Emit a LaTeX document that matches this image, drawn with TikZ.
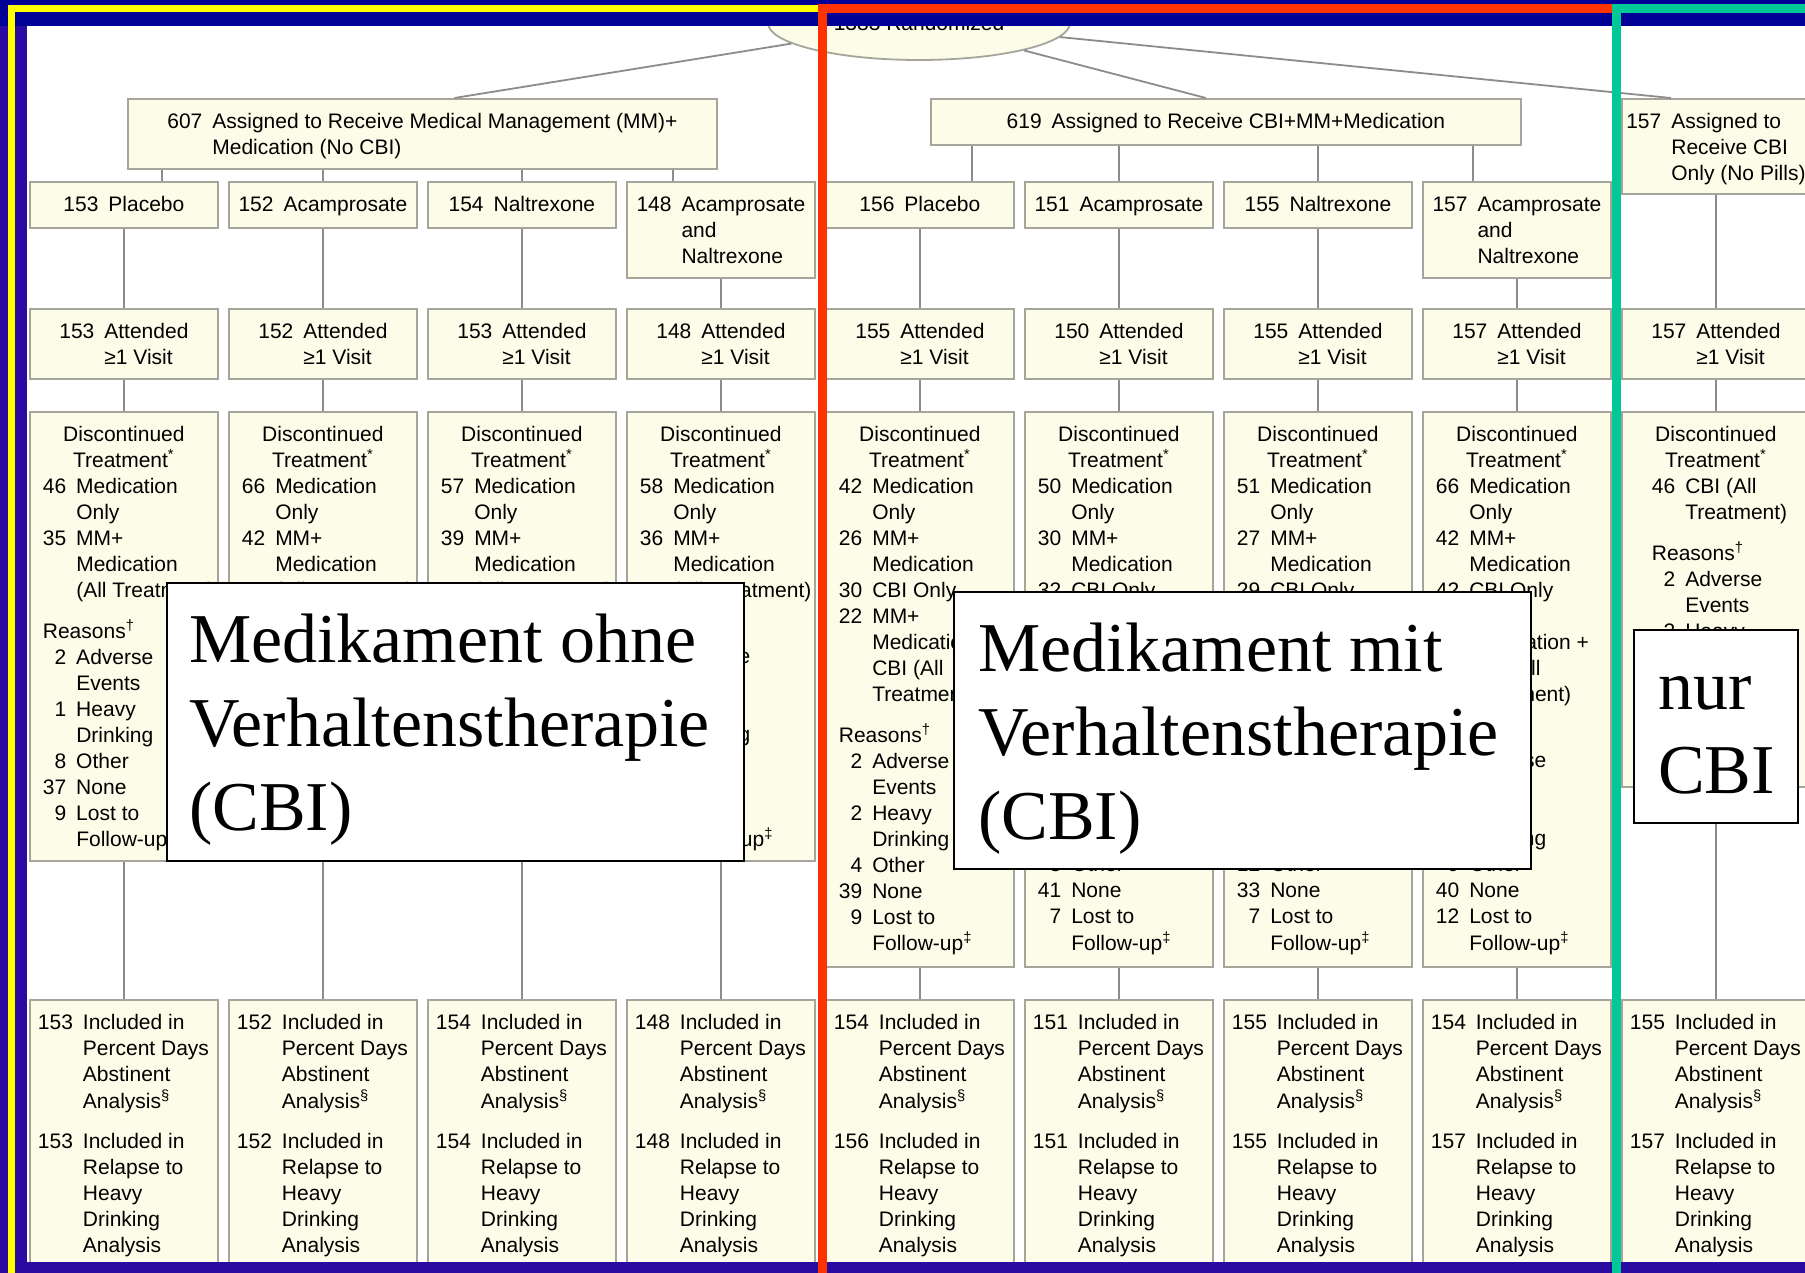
\documentclass[tikz,border=0pt]{standalone}
\usepackage{fontspec}
\setmainfont{Liberation Serif}
\setsansfont{Liberation Sans}
\usepackage{tikz}
\usetikzlibrary{positioning, calc, shapes.geometric}

\definecolor{frame_blue}{RGB}{0, 0, 150}
\definecolor{frame_violet}{RGB}{42, 10, 160}
\definecolor{box_fill}{RGB}{252, 252, 232}
\definecolor{box_line}{RGB}{165, 165, 155}
\definecolor{link_gray}{RGB}{140, 140, 140}
\definecolor{mark_yellow}{RGB}{255, 255, 0}
\definecolor{mark_red}{RGB}{255, 51, 0}
\definecolor{mark_green}{RGB}{0, 200, 150}

\newcommand\boxfont{\fontsize{10.5}{13}\selectfont\sffamily}
\newcommand\notefont{\fontsize{35}{42}\selectfont\rmfamily}
\newcommand\flowcell[4]{\parbox[c][#1][t]{#2}{\boxfont#3\rule{0pt}{15pt}\begin{tabular}[t]{@{}r@{\hspace{5pt}}l@{}}#4\end{tabular}}}
\newcommand\notecell[4]{\parbox[c][#1][t]{#2}{\notefont\hspace*{#3}\rule{0pt}{39.5pt}\begin{tabular}[t]{@{}l@{}}#4\end{tabular}}}
\newcommand\disctop[1]{\multicolumn{2}{@{}l@{}}{\makebox[#1][c]{Discontinued}}\\
  \multicolumn{2}{@{}l@{}}{\makebox[#1][c]{Treatment\textsuperscript{*}}}\\}
\newcommand\reasons{\multicolumn{2}{@{}l@{}}{Reasons\textsuperscript{\textdagger}}}
\newcommand\lostfu{& Follow-up\textsuperscript{\textdaggerdbl}}

\tikzset{
  flowbox/.style={draw=box_line, fill=box_fill, line width=0.9pt, inner sep=0pt, anchor=north west},
  note/.style={draw=black, fill=white, line width=1pt, inner sep=0pt, anchor=north west},
  link/.style={draw=link_gray, line width=0.9pt},
}

\begin{document}
\begin{tikzpicture}[x=0.5pt, y=-0.5pt]
  \useasboundingbox (0,0) rectangle (1805,1273);
  \fill[white] (0,0) rectangle (1805,1273);

  \node[draw=box_line, fill=box_fill, line width=0.9pt, ellipse, inner sep=0pt,
        minimum width=151pt, minimum height=37pt] (rand) at (919,23) {\boxfont 1383 Randomized};

  \node[flowbox] (mm) at (127,98) {\flowcell{35pt}{294.5pt}{\centering}{607 & Assigned to Receive Medical Management (MM)+\\ & Medication (No CBI)}};
  \node[flowbox] (cbimm) at (930,98) {\flowcell{23pt}{295pt}{\centering}{619 & Assigned to Receive CBI+MM+Medication}};
  \node[flowbox] (cbionly) at (1621,98) {\flowcell{47.5pt}{94pt}{\centering}{157 & Assigned to\\ & Receive CBI\\ & Only (No Pills)}};

  \foreach \c/\xx/\cnt/\drug in {1/29/153/Placebo, 2/228/152/Acamprosate, 3/427/154/Naltrexone,
                                 5/825/156/Placebo, 6/1024/151/Acamprosate, 7/1223/155/Naltrexone}
    \node[flowbox] (trt\c) at (\xx,181) {\flowcell{23pt}{94pt}{\centering}{\cnt & \drug}};
  \foreach \c/\xx/\cnt in {4/626/148, 8/1422/157}
    \node[flowbox] (trt\c) at (\xx,181) {\flowcell{48pt}{94pt}{\centering}{\cnt & Acamprosate\\ & and\\ & Naltrexone}};

  \foreach \c/\xx/\cnt in {1/29/153, 2/228/152, 3/427/153, 4/626/148, 5/825/155,
                           6/1024/150, 7/1223/155, 8/1422/157, 9/1621/157}
    \node[flowbox] (att\c) at (\xx,308) {\flowcell{35pt}{94pt}{\centering}{\cnt & Attended\\ & ≥1 Visit}};

  % discontinued, MM + medication
  \node[flowbox] (disc1) at (29,411) {\flowcell{224.5pt}{94pt}{\hspace*{6.5pt}}{\disctop{81pt}
    46 & Medication\\ & Only\\ 35 & MM+\\ & Medication\\ & (All Treatment)\\[7pt]
    \reasons\\ 2 & Adverse\\ & Events\\ 1 & Heavy\\ & Drinking\\ 8 & Other\\ 37 & None\\ 9 & Lost to\\ \lostfu}};
  \node[flowbox] (disc2) at (228,411) {\flowcell{224.5pt}{94pt}{\hspace*{6.5pt}}{\disctop{81pt}
    66 & Medication\\ & Only\\ 42 & MM+\\ & Medication\\ & (All Treatment)}};
  \node[flowbox] (disc3) at (427,411) {\flowcell{224.5pt}{94pt}{\hspace*{6.5pt}}{\disctop{81pt}
    57 & Medication\\ & Only\\ 39 & MM+\\ & Medication\\ & (All Treatment)}};
  \node[flowbox] (disc4) at (626,411) {\flowcell{224.5pt}{94pt}{\hspace*{6.5pt}}{\disctop{81pt}
    58 & Medication\\ & Only\\ 36 & MM+\\ & Medication\\ & (All Treatment)\\[7pt]
    & \\ & Adverse\\ & \\ & \\ & Drinking\\ & \\ & \\ & \\ \lostfu}};

  % discontinued, CBI + MM + medication
  \node[flowbox] (disc5) at (825,411) {\flowcell{277.5pt}{94pt}{\hspace*{6.5pt}}{\disctop{81pt}
    42 & Medication\\ & Only\\ 26 & MM+\\ & Medication\\ 30 & CBI Only\\ 22 & MM+\\ & Medication +\\ & CBI (All\\ & Treatment)\\[7pt]
    \reasons\\ 2 & Adverse\\ & Events\\ 2 & Heavy\\ & Drinking\\ 4 & Other\\ 39 & None\\ 9 & Lost to\\ \lostfu}};
  \node[flowbox] (disc6) at (1024,411) {\flowcell{277.5pt}{94pt}{\hspace*{6.5pt}}{\disctop{81pt}
    50 & Medication\\ & Only\\ 30 & MM+\\ & Medication\\ 32 & CBI Only\\ & \\ & \\ & \\ & \\[7pt]
    & \\ & \\ & \\ & \\ & \\ 8 & Other\\ 41 & None\\ 7 & Lost to\\ \lostfu}};
  \node[flowbox] (disc7) at (1223,411) {\flowcell{277.5pt}{94pt}{\hspace*{6.5pt}}{\disctop{81pt}
    51 & Medication\\ & Only\\ 27 & MM+\\ & Medication\\ 29 & CBI Only\\ & \\ & \\ & \\ & \\[7pt]
    & \\ & \\ & \\ & \\ & \\ 12 & Other\\ 33 & None\\ 7 & Lost to\\ \lostfu}};
  \node[flowbox] (disc8) at (1422,411) {\flowcell{277.5pt}{94pt}{\hspace*{6.5pt}}{\disctop{81pt}
    66 & Medication\\ & Only\\ 42 & MM+\\ & Medication\\ 42 & CBI Only\\ & \\ & Medication +\\ & CBI (All\\ & Treatment)\\[7pt]
    & \\ & Adverse\\ & \\ & \\ & Drinking\\ 9 & Other\\ 40 & None\\ 12 & Lost to\\ \lostfu}};

  % discontinued, CBI only
  \node[flowbox] (disc9) at (1621,411) {\flowcell{187.5pt}{94pt}{\hspace*{15pt}}{\disctop{64pt}
    46 & CBI (All\\ & Treatment)\\[7pt]
    \reasons\\ 2 & Adverse\\ & Events\\ 2 & Heavy}};

  \foreach \c/\xx/\pda/\rhd in {1/29/153/153, 2/228/152/152, 3/427/154/154, 4/626/148/148, 5/825/154/156,
                                6/1024/151/151, 7/1223/155/155, 8/1422/154/157, 9/1621/155/157}
    \node[flowbox] (incl\c) at (\xx,999) {\flowcell{135pt}{94pt}{\hspace*{4pt}}{\pda & Included in\\ & Percent Days\\
      & Abstinent\\ & Analysis\textsuperscript{\S}\\[7pt] \rhd & Included in\\ & Relapse to\\ & Heavy\\ & Drinking\\ & Analysis}};

  % connectors
  \draw[link] (rand) -- ($(mm.north)+(32,0)$);
  \draw[link] (rand) -- ($(cbimm.north)+(-20,0)$);
  \draw[link] (rand) -- ($(cbionly.north)+(-45,0)$);
  \foreach \c/\dx/\top in {1/38/mm, 2/0/mm, 3/0/mm, 4/-48/mm, 5/52/cbimm, 6/0/cbimm, 7/0/cbimm, 8/-44/cbimm} {
    \coordinate (k\c) at ($(trt\c.north)+(\dx,0)$);
    \draw[link] (k\c) -- (k\c |- \top.south);
  }
  \foreach \c in {1,...,8}
    \draw[link] (trt\c) -- (att\c);
  \draw[link] (cbionly) -- (att9);
  \foreach \c in {1,...,9} {
    \draw[link] (att\c) -- (disc\c);
    \draw[link] (disc\c) -- (incl\c);
  }

  % overlays
  \node[note] (ohne) at (166,582) {\notecell{139pt}{288.5pt}{11pt}{Medikament ohne\\Verhaltenstherapie\\(CBI)}};
  \node[note] (mit) at (953,591) {\notecell{138.5pt}{288.5pt}{12pt}{Medikament mit\\Verhaltenstherapie\\(CBI)}};
  \node[note] (nur) at (1633,629) {\notecell{96.5pt}{82pt}{12pt}{nur\\CBI}};

  % slide frame
  \fill[frame_blue] (0,0) rectangle (1805,26);
  \fill[frame_violet] (0,26) rectangle (27,1273);
  \fill[frame_violet] (0,1262) rectangle (1805,1273);
  \draw[mark_yellow, line width=3.5pt] (11.5,1290) -- (11.5,8.5) -- (822,8.5);
  \draw[mark_red, line width=4.5pt] (822.5,1290) -- (822.5,8.5) -- (1616.5,8.5);
  \draw[mark_green, line width=4.5pt] (1616.5,1290) -- (1616.5,8.5) -- (1830,8.5);
\end{tikzpicture}
\end{document}
